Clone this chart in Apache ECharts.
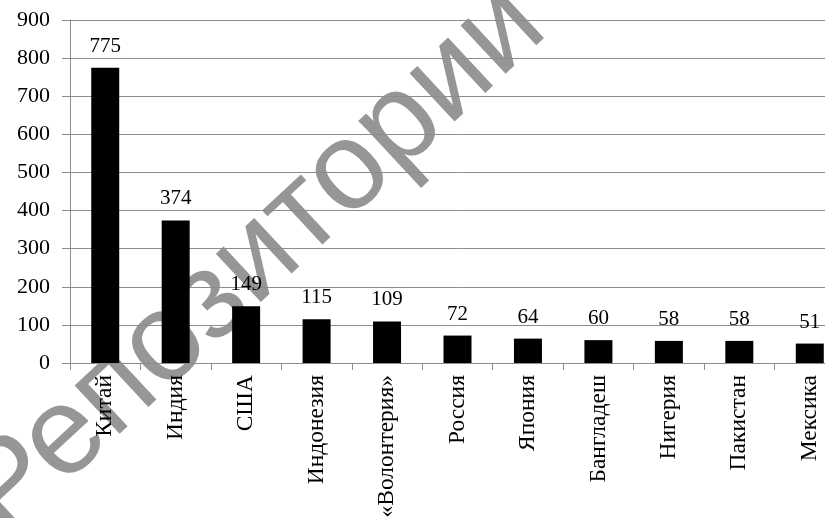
<!DOCTYPE html>
<html>
<head>
<meta charset="utf-8">
<script src="https://cdn.jsdelivr.net/npm/echarts@6/dist/echarts.min.js"></script>
<style>
html,body{margin:0;padding:0;background:#fff;overflow:hidden;width:825px;height:518px;}
#chart{width:845px;height:518px;}
</style>
</head>
<body>
<div id="chart"></div>
<script>
const categories = ['Китай','Индия','США','Индонезия','«Волонтерия»','Россия','Япония','Бангладеш','Нигерия','Пакистан','Мексика'];
const values = [775, 374, 149, 115, 109, 72, 64, 60, 58, 58, 51];
const yTicks = { min: 0, max: 900, interval: 100 };
const watermarkText = 'Репозитории';

const chart = echarts.init(document.getElementById('chart'), null, {renderer: 'canvas'});
const serif = '"Liberation Serif", "Times New Roman", serif';
chart.setOption({
  animation: false,
  backgroundColor: '#fff',
  grid: { left: 70, right: 0, top: 20, bottom: 155, containLabel: false, outerBoundsMode: 'none' },
  graphic: [{
    type: 'text',
    z: 0,
    x: -18,
    y: 515,
    rotation: 43 * Math.PI / 180,
    style: {
      text: watermarkText,
      fontSize: 125,
      fontWeight: 'normal',
      fontFamily: '"Liberation Sans", Arial, sans-serif',
      fill: 'rgba(110,110,110,0.72)',
      align: 'left',
      verticalAlign: 'middle'
    }
  }],
  xAxis: {
    type: 'category',
    data: categories,
    z: 3,
    axisLine: { lineStyle: { color: '#8c8c8c', width: 1 } },
    axisTick: { show: true, length: 7, alignWithLabel: false, lineStyle: { color: '#8c8c8c' } },
    axisLabel: {
      rotate: 90,
      interval: 0,
      margin: 12,
      color: '#000',
      fontFamily: serif,
      fontSize: 23.5
    }
  },
  yAxis: {
    type: 'value',
    min: yTicks.min,
    max: yTicks.max,
    interval: yTicks.interval,
    z: 1,
    axisLine: { show: true, lineStyle: { color: '#8c8c8c', width: 1 } },
    axisTick: { show: true, length: 8, lineStyle: { color: '#8c8c8c' } },
    splitLine: { show: true, lineStyle: { color: '#8c8c8c', width: 1 } },
    axisLabel: {
      margin: 20,
      color: '#000',
      fontFamily: serif,
      fontSize: 22
    }
  },
  series: [{
    type: 'bar',
    z: 2,
    data: values,
    barWidth: 28,
    itemStyle: { color: '#000' },
    label: {
      show: true,
      position: 'top',
      distance: 11,
      color: '#000',
      fontFamily: serif,
      fontSize: 21
    }
  }]
});
</script>
</body>
</html>
